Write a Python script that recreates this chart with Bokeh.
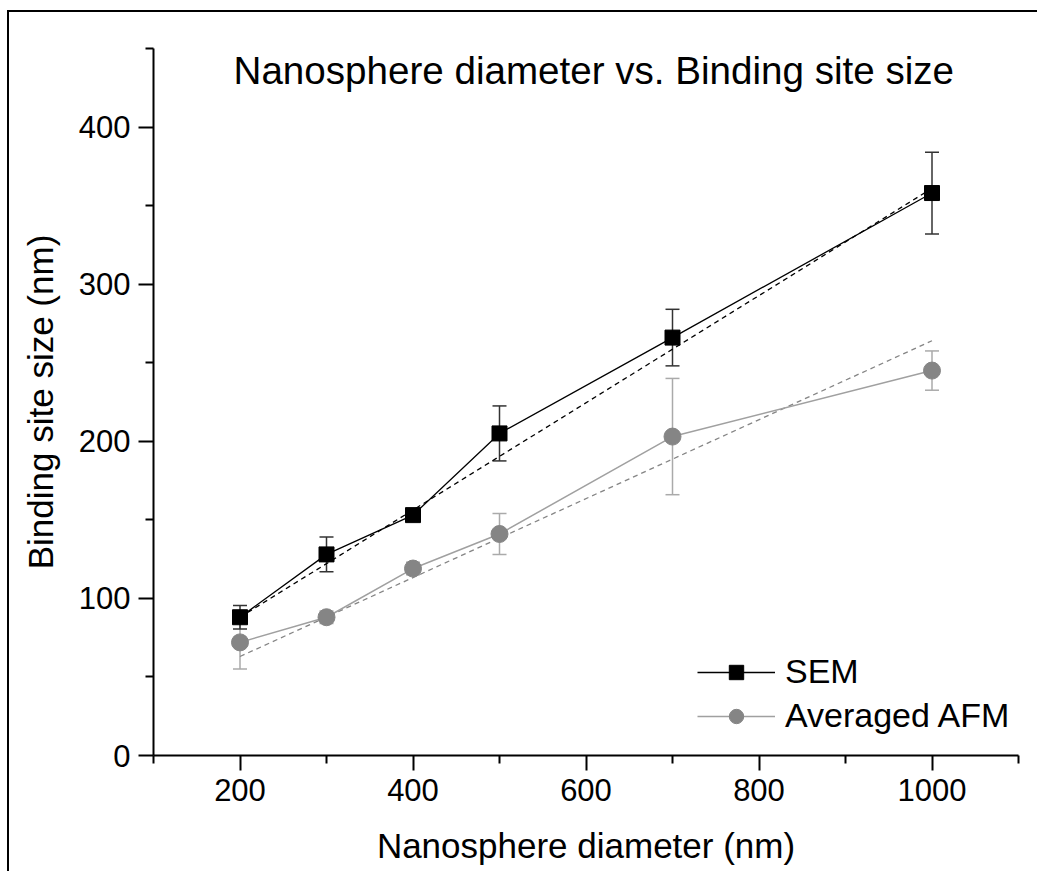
from bokeh.plotting import figure
from bokeh.models import (ColumnDataSource, Whisker, TeeHead, FixedTicker, Label,
                          Legend, LegendItem, Range1d)
from bokeh.embed import file_html
from bokeh.resources import INLINE

# ---- data ----
diameter = [200, 300, 400, 500, 700, 1000]
sem_size = [88, 128, 153, 205, 266, 358]
sem_err = [7.5, 11, 3, 17.5, 18, 26]
afm_size = [72, 88, 119, 141, 203, 245]
afm_err = [17, 4, 4, 13, 37, 12.5]
fit_x = [200, 1000]
sem_fit = [88, 361]
afm_fit = [63, 264]

x_ticks = [200, 400, 600, 800, 1000]
x_minor = [100, 300, 500, 700, 900, 1100]
y_ticks = [0, 100, 200, 300, 400]
y_minor = [50, 150, 250, 350, 450]

title_text = "Nanosphere diameter vs. Binding site size"
x_label = "Nanosphere diameter (nm)"
y_label = "Binding site size (nm)"

FONT = "Liberation Sans"
BLACK = "#000000"
GREY_M = "#858585"
GREY_L = "#a0a0a0"
GREY_E = "#aaaaaa"

p = figure(width=1030, height=861, output_backend="svg", toolbar_location=None,
           x_range=Range1d(100, 1100), y_range=Range1d(0, 450),
           min_border_left=144, min_border_top=36, min_border_right=21,
           min_border_bottom=118)
p.margin = (10, 0, 0, 7)
p.styles = {"border-left": "2px solid black", "border-top": "2px solid black"}
p.outline_line_color = None
p.xgrid.visible = False
p.ygrid.visible = False
p.background_fill_color = "white"
p.border_fill_color = "white"

# axes
p.xaxis.ticker = FixedTicker(ticks=x_ticks, minor_ticks=x_minor)
p.yaxis.ticker = FixedTicker(ticks=y_ticks, minor_ticks=y_minor)
for ax in (p.xaxis[0], p.yaxis[0]):
    ax.axis_line_width = 2
    ax.axis_line_color = BLACK
    ax.major_tick_line_width = 2
    ax.minor_tick_line_width = 2
    ax.major_tick_line_color = BLACK
    ax.minor_tick_line_color = BLACK
    ax.major_tick_in = 0
    ax.major_tick_out = 15
    ax.minor_tick_in = 0
    ax.minor_tick_out = 8
    ax.major_label_text_font = FONT
    ax.major_label_text_font_size = "31px"
    ax.major_label_text_color = BLACK
    ax.axis_label_text_font = FONT
    ax.axis_label_text_font_size = "35px"
    ax.axis_label_text_font_style = "normal"
    ax.axis_label_text_color = BLACK
p.xaxis.axis_label = x_label
p.yaxis.axis_label = y_label
p.xaxis.major_label_standoff = 8
p.yaxis.major_label_standoff = 8
p.xaxis.axis_label_standoff = 22
p.yaxis.axis_label_standoff = 16

# error bars
sem_src = ColumnDataSource(dict(x=diameter, y=sem_size,
                                upper=[v + e for v, e in zip(sem_size, sem_err)],
                                lower=[v - e for v, e in zip(sem_size, sem_err)]))
afm_src = ColumnDataSource(dict(x=diameter, y=afm_size,
                                upper=[v + e for v, e in zip(afm_size, afm_err)],
                                lower=[v - e for v, e in zip(afm_size, afm_err)]))

for src, col in ((afm_src, GREY_E), (sem_src, "#333333")):
    w = Whisker(base="x", upper="upper", lower="lower", source=src,
                line_color=col, line_width=1.5, level="underlay",
                upper_head=TeeHead(size=14, line_color=col, line_width=1.5),
                lower_head=TeeHead(size=14, line_color=col, line_width=1.5))
    p.add_layout(w)

# fit lines
p.line(fit_x, afm_fit, line_color=GREY_M, line_width=1.3, line_dash="5 4")
p.line(fit_x, sem_fit, line_color=BLACK, line_width=1.3, line_dash="5 4")

# data lines + markers
afm_line = p.line("x", "y", source=afm_src, line_color=GREY_L, line_width=1.5)
afm_pts = p.scatter("x", "y", source=afm_src, marker="circle", size=17,
                    fill_color=GREY_M, line_color=GREY_M)
sem_line = p.line("x", "y", source=sem_src, line_color=BLACK, line_width=1.3)
sem_pts = p.scatter("x", "y", source=sem_src, marker="square", size=15,
                    fill_color=BLACK, line_color=BLACK)

legend = Legend(items=[LegendItem(label="SEM", renderers=[sem_line, sem_pts]),
                       LegendItem(label="Averaged AFM", renderers=[afm_line, afm_pts])],
                location=(544, 20), glyph_width=78, glyph_height=36, label_height=36,
                spacing=5, padding=0, margin=0, border_line_color=None,
                background_fill_alpha=0, label_text_font=FONT,
                label_text_font_size="34px", label_standoff=10,
                label_text_color=BLACK)
p.add_layout(legend)

title = Label(x=609, y=436, text=title_text, text_align="center",
              text_baseline="alphabetic", text_font=FONT,
              text_font_size="38.6px", text_color=BLACK)
p.add_layout(title)

open("out.html", "w").write(file_html(p, INLINE))
